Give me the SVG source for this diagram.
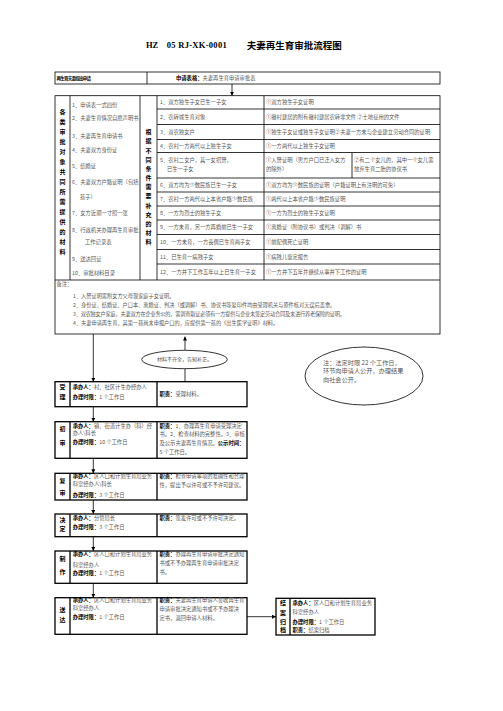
<svg xmlns="http://www.w3.org/2000/svg" width="503" height="711" viewBox="0 0 503 711">
<defs>
<marker id="ah" viewBox="0 0 6 6" refX="6" refY="3" markerWidth="5" markerHeight="5" orient="auto"><path d="M0,0 L6,3 L0,6 z" fill="#000"/></marker>
</defs>
<style>
text{font-family:"Noto Sans CJK SC","Noto Sans",sans-serif;font-size:5.3px;fill:#555}
.b{font-weight:bold;fill:#000}
.v{font-weight:bold;fill:#000;font-size:6px;text-anchor:middle}
.n{font-size:5.2px}
.ln{stroke:#000;stroke-width:0.8;fill:none}
.bx{stroke:#000;stroke-width:1.3;fill:none}
.ar{stroke:#000;stroke-width:0.8;fill:none;marker-end:url(#ah)}
</style>
<rect width="503" height="711" fill="#fff"/>

<g id="title">
<text x="146" y="48" style="font-family:'Liberation Serif',serif;font-size:8.5px;font-weight:bold;fill:#000">HZ</text>
<text x="166.7" y="48" textLength="60" style="font-family:'Liberation Serif',serif;font-size:8.5px;font-weight:bold;fill:#000">05 RJ-XK-0001</text>
<text x="246.7" y="48.5" textLength="95" style="font-size:9.5px;font-weight:bold;fill:#000">夫妻再生育审批流程图</text>
</g>

<g id="apply">
<rect class="ln" x="55" y="72" width="385" height="12"/>
<line class="ln" x1="147" y1="72" x2="147" y2="84"/>
<text x="56.5" y="80" class="b" style="font-size:4.5px" textLength="34.5">再生育夫妻提出申请</text>
<text x="176" y="80.2"><tspan class="b">申请表格：</tspan><tspan>夫妻再生育申请审批表</tspan></text>
</g>

<g id="materials">
<rect class="ln" x="55" y="95.7" width="385" height="238.3"/>
<line class="ln" x1="55" y1="280" x2="440" y2="280"/>
<line class="ln" x1="70" y1="95.7" x2="70" y2="280"/>
<line class="ln" x1="140" y1="95.7" x2="140" y2="280"/>
<line class="ln" x1="157" y1="95.7" x2="157" y2="280"/>
<line class="ln" x1="264" y1="95.7" x2="264" y2="280"/>
<line class="ln" x1="352" y1="152.5" x2="352" y2="178"/>
<path class="ln" d="M157,109H440M157,124.5H440M157,139.5H440M157,152.5H440M157,178H440M157,192H440M157,206H440M157,220H440M157,234.5H440M157,249.5H440M157,264H440"/>

<g id="col1">
<text class="v" x="62.5" y="114.2">各</text>
<text class="v" x="62.5" y="124.2">类</text>
<text class="v" x="62.5" y="134.2">审</text>
<text class="v" x="62.5" y="144.2">批</text>
<text class="v" x="62.5" y="154.2">对</text>
<text class="v" x="62.5" y="164.2">象</text>
<text class="v" x="62.5" y="174.2">共</text>
<text class="v" x="62.5" y="184.2">同</text>
<text class="v" x="62.5" y="194.2">所</text>
<text class="v" x="62.5" y="204.2">需</text>
<text class="v" x="62.5" y="214.2">提</text>
<text class="v" x="62.5" y="224.2">供</text>
<text class="v" x="62.5" y="234.2">的</text>
<text class="v" x="62.5" y="244.2">材</text>
<text class="v" x="62.5" y="254.2">料</text>
</g>

<g id="col2">
<text x="72" y="106.9">1．申请表一式四份</text>
<text x="72" y="120.2">2．夫妻生育情况自愿声明书</text>
<text x="72" y="137.9">3．夫妻再生育申请书</text>
<text x="72" y="151.9">4．夫妻双方身份证</text>
<text x="72" y="167.6">5．结婚证</text>
<text x="72" y="184.2">6．夫妻双方户籍证明（包括</text>
<text x="80" y="198.6">孩子）</text>
<text x="72" y="215.2">7．女方近期一寸照一张</text>
<text x="72" y="231.9">8．行政机关办理再生育审批</text>
<text x="85" y="243.6">工作记录表</text>
<text x="72" y="261.4">9．送达回证</text>
<text x="72" y="275.2">10．审批材料目录</text>
</g>

<g id="col3">
<text class="v" x="148.5" y="134.2">根</text>
<text class="v" x="148.5" y="143.4">据</text>
<text class="v" x="148.5" y="152.5">不</text>
<text class="v" x="148.5" y="161.7">同</text>
<text class="v" x="148.5" y="170.9">条</text>
<text class="v" x="148.5" y="180">件</text>
<text class="v" x="148.5" y="189.2">需</text>
<text class="v" x="148.5" y="198.4">要</text>
<text class="v" x="148.5" y="207.5">补</text>
<text class="v" x="148.5" y="216.7">充</text>
<text class="v" x="148.5" y="225.9">的</text>
<text class="v" x="148.5" y="235">材</text>
<text class="v" x="148.5" y="244.2">料</text>
</g>

<g id="col4">
<text x="160" y="104.2">1．双方独生子女已生一子女</text>
<text x="160" y="118.6">2．农转城生育对象</text>
<text x="160" y="133.9">3．双农独女户</text>
<text x="160" y="147.9">4．农村一方两代以上独生子女</text>
<text x="160" y="161.9">5．农村二女户，其一女招赘，</text>
<text x="167" y="171.4">已生一子女</text>
<text x="160" y="186.9">6．双方均为少数民族已生一子女</text>
<text x="160" y="200.9">7．农村一方两代以上本省户籍少数民族</text>
<text x="160" y="214.9">8．一方为烈士的独生子女</text>
<text x="160" y="228.9">9．一方未育，另一方再婚前已生一子女</text>
<text x="160" y="243.9">10．一方未育，一方丧偶已生育两子女</text>
<text x="160" y="258.6">11．已生育一病残子女</text>
<text x="160" y="273.9">12．一方井下工作五年以上已生育一子女</text>
</g>

<g id="col5" style="font-size:5.4px">
<text x="266" y="104.2">①双方独生子女证明</text>
<text x="266" y="118.6">①撤村建居的附有撤村建居农转非文件 ②土地征用的文件</text>
<text x="266" y="133.9">①独生子女证或独生子女证明②夫妻一方未与企业建立劳动合同的证明</text>
<text x="266" y="147.9">①一方两代以上独生子女证明</text>
<text x="266" y="161.9">①入赘证明（男方户口已迁入女方</text>
<text x="266" y="171.4">的除外）</text>
<text x="354" y="161.9">②有二个女儿的，其中一个女儿需</text>
<text x="354" y="171.4">放弃生育二胎的协议书</text>
<text x="266" y="186.9">①双方均为少数民族的证明（户籍证明上有注明的可免）</text>
<text x="266" y="200.9">①两代以上本省户籍少数民族证明</text>
<text x="266" y="214.9">①一方为烈士的独生子女证明</text>
<text x="266" y="228.9">①离婚证（附协议书）或判决（调解）书</text>
<text x="266" y="243.9">①前配偶死亡证明</text>
<text x="266" y="258.6">①病残儿鉴定报告</text>
<text x="266" y="273.9">①一方井下五年并继续从事井下工作的证明</text>
</g>

<g id="notes" class="n">
<text x="56.5" y="285.5" class="n">备注：</text>
<text x="73" y="298.4" class="n">1．入赘证明需附女方父母现家庭子女证明。</text>
<text x="73" y="306.9" class="n">2．身份证、结婚证、户口本、离婚证、判决（或调解）书、协议书等复印件均由受理机关与原件核对无误后盖章。</text>
<text x="73" y="315.9" class="n" textLength="272">3．双农独女户家庭，夫妻双方在企业务公的，需调查取证必须有一方提供与企业未签定劳动合同及未进行养老保险的证明。</text>
<text x="73" y="325.4" class="n">4．夫妻申请再生育，其第一孩尚未申报户口的，应提供第一孩的《出生医学证明》材料。</text>
</g>
</g>

<g id="connectors">
<line class="ar" x1="232" y1="84" x2="232" y2="95.7"/>
<line class="ar" x1="93.3" y1="334" x2="93.3" y2="381.7"/>
<line class="ar" x1="185" y1="350.3" x2="185" y2="336.5"/>
<line class="ln" x1="185" y1="368.7" x2="185" y2="381.7"/>
<line class="ar" x1="93.3" y1="406.7" x2="93.3" y2="421.7"/>
<line class="ar" x1="93.3" y1="458.3" x2="93.3" y2="473.3"/>
<line class="ar" x1="93.3" y1="500" x2="93.3" y2="514"/>
<line class="ar" x1="93.3" y1="536.7" x2="93.3" y2="551"/>
<line class="ar" x1="93.3" y1="583.3" x2="93.3" y2="597.7"/>
<line class="ar" x1="247" y1="616.7" x2="276" y2="616.7"/>
</g>

<g id="supplement">
<ellipse class="ln" cx="184.5" cy="359.5" rx="42.8" ry="9.2"/>
<text x="184.5" y="361.3" style="font-size:5px;text-anchor:middle">材料不齐全，告知补正。</text>
</g>

<g id="note-ellipse">
<ellipse class="ln" cx="364" cy="376" rx="59" ry="29"/>
<text x="323" y="364.9" style="font-size:6.2px">注：法定时限 22 个工作日，</text>
<text x="323" y="373.2" style="font-size:6.2px">环节向申请人公开，办理结果</text>
<text x="323" y="382.2" style="font-size:6.2px">向社会公开。</text>
</g>

<g id="accept">
<rect class="bx" x="55" y="381.7" width="192" height="25"/>
<path class="bx" d="M70,381.7V406.7M157,381.7V406.7"/>
<text class="v" x="62.5" y="389">受</text>
<text class="v" x="62.5" y="398.5">理</text>
<text x="72.7" y="389.2"><tspan class="b">承办人：</tspan>村、社区计生办经办人</text>
<text x="72.7" y="398.6"><tspan class="b">办理时限：</tspan>1 个工作日</text>
<text x="159.5" y="396"><tspan class="b">职责：</tspan>受理材料。</text>
</g>

<g id="first-review">
<rect class="bx" x="55" y="421.7" width="192" height="36.6"/>
<path class="bx" d="M70,421.7V458.3M157,421.7V458.3"/>
<text class="v" x="62.5" y="431">初</text>
<text class="v" x="62.5" y="445">审</text>
<text x="72.7" y="427.6"><tspan class="b">承办人：</tspan>镇、街道计生办（科）经</text>
<text x="72.7" y="435.2">办人\科长</text>
<text x="72.7" y="444.2"><tspan class="b">办理时限：</tspan>10 个工作日</text>
<text x="159.5" y="427.6"><tspan class="b">职责：</tspan>1．办理再生育申请受理决定</text>
<text x="159.5" y="436.2">书。2．检查材料的完整性。3．审核</text>
<text x="159.5" y="445.2">及公示夫妻再生育情况。<tspan class="b">公示时间：</tspan></text>
<text x="159.5" y="454.2">5 个工作日。</text>
</g>

<g id="second-review">
<rect class="bx" x="55" y="473.3" width="192" height="26.7"/>
<path class="bx" d="M70,473.3V500M157,473.3V500"/>
<text class="v" x="62.5" y="483">复</text>
<text class="v" x="62.5" y="494.5">审</text>
<text x="72.7" y="477.8"><tspan class="b">承办人：</tspan>区人口和计划生育局业务</text>
<text x="72.7" y="486.4">科室经办人\科长</text>
<text x="72.7" y="496.9"><tspan class="b">办理时限：</tspan>3 个工作日</text>
<text x="159.5" y="477.9"><tspan class="b">职责：</tspan>检查申请事项的准确性和合理</text>
<text x="159.5" y="486.9">性，提出予以许可或不予许可建议。</text>
</g>

<g id="decision">
<rect class="bx" x="55" y="514" width="192" height="22.7"/>
<path class="bx" d="M70,514V536.7M157,514V536.7"/>
<text class="v" x="62.5" y="522.2">决</text>
<text class="v" x="62.5" y="531.4">定</text>
<text x="72.7" y="520.2"><tspan class="b">承办人：</tspan>分管局长</text>
<text x="72.7" y="528.6"><tspan class="b">办理时限：</tspan>3 个工作日</text>
<text x="159.5" y="520.2"><tspan class="b">职责：</tspan>签发许可或不予许可决定。</text>
</g>

<g id="produce">
<rect class="bx" x="55" y="551" width="192" height="32.3"/>
<path class="bx" d="M70,551V583.3M157,551V583.3"/>
<text class="v" x="62.5" y="560.5">制</text>
<text class="v" x="62.5" y="573.5">作</text>
<text x="72.7" y="556.2"><tspan class="b">承办人：</tspan>区人口和计划生育局业务</text>
<text x="72.7" y="566.9">科室经办人</text>
<text x="72.7" y="575.2"><tspan class="b">办理时限：</tspan>1 个工作日</text>
<text x="159.5" y="556.2"><tspan class="b">职责：</tspan>办理再生育申请审批决定通知</text>
<text x="159.5" y="564.6">书或不予办理再生育申请审批决定</text>
<text x="159.5" y="573.6">书。</text>
</g>

<g id="deliver">
<rect class="bx" x="55" y="597.7" width="192" height="36.6"/>
<path class="bx" d="M70,597.7V634.3M157,597.7V634.3"/>
<text class="v" x="62.5" y="612">送</text>
<text class="v" x="62.5" y="622">达</text>
<text x="72.7" y="601.9"><tspan class="b">承办人：</tspan>区人口和计划生育局业务</text>
<text x="72.7" y="609.6">科室经办人</text>
<text x="72.7" y="618.6"><tspan class="b">办理时限：</tspan>1 个工作日</text>
<text x="159.5" y="601.9"><tspan class="b">职责：</tspan>夫妻再生育申请人签收再生育</text>
<text x="159.5" y="610.9">申请审批决定通知书或不予办理决</text>
<text x="159.5" y="620.2">定书，退回申请人材料。</text>
</g>

<g id="archive">
<rect class="bx" x="276" y="598.3" width="99" height="36.7"/>
<path class="bx" d="M290,598.3V635"/>
<text class="v" x="283" y="604.9">结</text>
<text class="v" x="283" y="614.5">案</text>
<text class="v" x="283" y="623.9">归</text>
<text class="v" x="283" y="632.2">档</text>
<text x="292.5" y="604.6"><tspan class="b">承办人：</tspan>区人口和计划生育局业务</text>
<text x="292.5" y="614.2">科室经办人</text>
<text x="292.5" y="623.6"><tspan class="b">办理时限：</tspan>1 个工作日</text>
<text x="292.5" y="631.9"><tspan class="b">职责：</tspan>结案归档</text>
</g>
</svg>
